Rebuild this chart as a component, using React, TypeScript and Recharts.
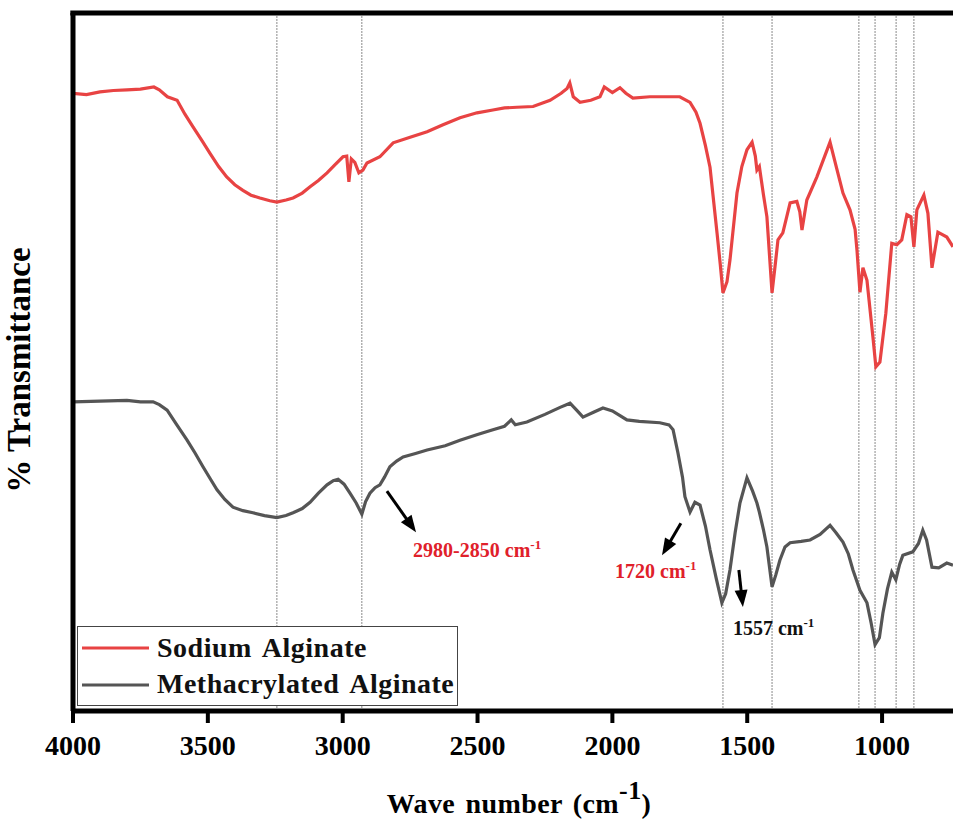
import React from 'react';
import { LineChart, Line, XAxis, YAxis, ReferenceLine, Legend } from 'recharts';

// ---------- data (wavenumber cm-1, % transmittance, arbitrary offsets) ----------
const saWn = [4000,3950,3900,3850,3800,3750,3700,3680,3650,3614,3585,3555,3520,3492,3460,3430,3400,3370,3340,3307,3270,3244,3210,3184,3150,3121,3090,3058,3030,2999,2985,2977,2968,2955,2940,2925,2910,2862,2813,2750,2687,2628,2565,2502,2443,2400,2354,2294,2231,2190,2168,2158,2145,2120,2080,2046,2030,2000,1972,1950,1924,1861,1800,1750,1712,1690,1675,1655,1638,1612,1600,1590,1575,1564,1538,1520,1501,1482,1470,1464,1455,1440,1427,1408,1396,1386,1368,1341,1316,1305,1297,1279,1242,1193,1170,1145,1119,1100,1093,1082,1071,1056,1034,1023,1008,986,964,945,927,908,893,882,871,845,830,815,793,760,737];
const saT = [88.5,88.3,88.7,88.9,89.0,89.1,89.4,89.0,88.0,87.5,85.5,83.7,81.6,79.9,78.0,76.5,75.4,74.6,73.9,73.5,73.1,72.9,73.2,73.5,74.2,75.1,76.0,77.1,78.2,79.4,79.5,75.8,79.1,78.6,77.1,77.5,78.5,79.4,81.4,82.2,83.0,84.0,85.0,85.7,86.1,86.4,86.5,86.6,87.5,88.5,89.2,90.0,88.0,87.2,87.5,88.0,89.4,88.6,89.3,88.5,87.8,88.0,88.0,88.0,87.2,85.8,84.2,81.0,77.9,68.5,64.0,59.9,61.5,64.6,74.2,78.0,80.4,81.5,79.5,77.5,78.0,74.0,70.8,59.9,64.0,67.5,68.5,72.8,73.0,71.5,68.9,73.2,76.5,81.5,78.0,74.2,71.8,69.0,66.0,60.0,63.5,61.7,53.6,49.3,50.0,57.0,67.0,66.8,67.5,71.1,70.8,66.5,71.8,73.9,71.3,63.5,68.6,67.9,66.5];

const maWn = [4000,3900,3800,3750,3703,3680,3651,3615,3577,3548,3518,3490,3466,3437,3407,3370,3333,3290,3244,3210,3184,3150,3121,3090,3058,3035,3017,2995,2973,2950,2929,2915,2899,2880,2862,2845,2825,2800,2776,2730,2687,2620,2565,2500,2443,2400,2375,2360,2317,2250,2194,2157,2130,2109,2070,2035,2000,1946,1900,1824,1790,1775,1757,1740,1731,1712,1694,1675,1655,1638,1615,1594,1580,1564,1545,1527,1501,1480,1464,1455,1440,1427,1408,1394,1379,1360,1341,1300,1267,1230,1193,1170,1145,1125,1108,1082,1056,1040,1026,1010,997,980,964,949,935,923,886,865,849,835,815,790,760,737];
const maT = [44.3,44.4,44.5,44.3,44.3,43.9,43.1,41.0,38.8,37.0,35.0,33.2,31.7,30.3,29.2,28.7,28.4,28.0,27.7,28.0,28.4,29.0,29.9,31.2,32.4,33.0,33.2,32.5,31.2,29.8,28.2,30.0,31.2,32.0,32.4,33.5,35.0,35.8,36.4,36.9,37.4,38.0,38.8,39.6,40.3,40.8,41.7,41.0,41.4,42.5,43.5,44.1,43.0,42.1,42.8,43.4,43.0,41.7,41.5,41.3,41.0,40.3,37.0,33.5,30.7,28.5,29.9,29.5,26.5,23.1,19.0,15.5,16.8,20.2,25.5,29.8,33.4,31.5,29.8,28.5,26.0,23.5,17.8,19.5,21.6,23.5,24.1,24.3,24.5,25.3,26.6,25.5,24.2,22.5,20.2,17.3,15.5,12.5,9.5,10.5,14.0,17.5,19.9,18.8,21.0,22.3,22.8,24.0,25.9,24.5,20.6,20.5,21.2,20.9];

const xTicks = [4000, 3500, 3000, 2500, 2000, 1500, 1000];
const guideLines = [3244, 2929, 1590, 1408, 1086, 1026, 948, 882];

const seriesNames = ['Sodium Alginate', 'Methacrylated Alginate'];
const seriesColors = ['#E84343', '#555555'];

// annotations: arrow [start, end] and label anchor
const annoArrows = [
  [[2836, 31.5], [2728, 25.6]],
  [[1746, 26.9], [1816, 22.3]],
  [[1531, 20.2], [1516, 14.9]],
];
const annoLabels = ['2980-2850', '1720', '1557'];
const annoLabelPos = [[2739, 22.1], [1990, 19.1], [1553, 10.9]];
const annoLabelColors = ['#E0202A', '#E0202A', '#111111'];

const saData = saWn.map((w, i) => ({ wn: w, t: saT[i] }));
const maData = maWn.map((w, i) => ({ wn: w, t: maT[i] }));

const FONT = '"Liberation Serif", "Times New Roman", serif';

const ArrowShape = (props: any) => {
  const { x1, y1, x2, y2 } = props;
  const dx = x2 - x1, dy = y2 - y1;
  const len = Math.hypot(dx, dy) || 1;
  const ux = dx / len, uy = dy / len;
  const hl = 17, hw = 6.5;
  const bx = x2 - ux * hl, by = y2 - uy * hl;
  const px = -uy, py = ux;
  return (
    <g>
      <line x1={x1} y1={y1} x2={bx + ux * 2} y2={by + uy * 2} stroke="#000" strokeWidth={3} />
      <polygon points={`${x2},${y2} ${bx + px * hw},${by + py * hw} ${bx - px * hw},${by - py * hw}`} fill="#000" />
    </g>
  );
};

const makeLabelShape = (txt: string, color: string) => (props: any) => (
  <text x={props.x1} y={props.y1} fill={color} fontSize={20} fontWeight="bold" fontFamily={FONT}>
    {txt} cm<tspan dy={-8} fontSize={13}>-1</tspan>
  </text>
);

const LegendBox = () => (
  <div style={{ width: 381, height: 80, border: '1px solid #444', background: '#fff', boxSizing: 'border-box' }}>
    <svg width={379} height={78} style={{ display: 'block' }}>
      {seriesNames.map((n, i) => (
        <g key={n}>
          <line x1={4} x2={71} y1={21 + i * 37} y2={21 + i * 37} stroke={seriesColors[i]} strokeWidth={3} />
          <text x={79} y={30 + i * 36} fontSize={28} fontWeight="bold" fontFamily={FONT} fill="#111" letterSpacing={0.5} wordSpacing={4}>{n}</text>
        </g>
      ))}
    </svg>
  </div>
);

export default function App() {
  return (
    <div style={{ position: 'absolute', left: 0, top: 0, width: 953, height: 825, overflow: 'hidden', background: '#fff' }}>
      <LineChart width={953} height={825} margin={{ top: 13, right: 0, left: 0, bottom: 0 }}>
        <XAxis
          type="number"
          dataKey="wn"
          domain={[737, 4000]}
          reversed
          allowDataOverflow
          ticks={xTicks}
          interval={0}
          height={114}
          tickSize={12}
          tickMargin={12}
          axisLine={{ stroke: '#000', strokeWidth: 5 }}
          tickLine={{ stroke: '#000', strokeWidth: 4 }}
          tick={{ fill: '#000', fontSize: 28, fontWeight: 'bold', fontFamily: FONT }}
          label={{
            content: () => (
              <text x={519} y={813} textAnchor="middle" fontSize={28} fontWeight="bold" fontFamily={FONT} fill="#000" letterSpacing={0.4} wordSpacing={3}>
                Wave number (cm<tspan dy={-14} fontSize={26}>-1</tspan><tspan dy={14}>)</tspan>
              </text>
            ),
          }}
        />
        <YAxis
          type="number"
          domain={[0, 100]}
          width={73}
          tick={false}
          tickLine={false}
          axisLine={{ stroke: '#000', strokeWidth: 5 }}
          label={{
            content: () => (
              <text x={30} y={370} transform="rotate(-90, 30, 370)" textAnchor="middle" fontSize={33} fontWeight="bold" fontFamily={FONT} fill="#000">
                % Transmittance
              </text>
            ),
          }}
        />
        {guideLines.map((g) => (
          <ReferenceLine key={g} x={g} stroke="#8a8a8a" strokeWidth={1} strokeDasharray="2 1" />
        ))}
        <ReferenceLine segment={[{ x: 4010, y: 100 }, { x: 737, y: 100 }]} ifOverflow="visible" stroke="#000" strokeWidth={5} />
        <Line data={saData} dataKey="t" type="linear" dot={false} stroke={seriesColors[0]} strokeWidth={3.2} isAnimationActive={false} name={seriesNames[0]} />
        <Line data={maData} dataKey="t" type="linear" dot={false} stroke={seriesColors[1]} strokeWidth={3.2} isAnimationActive={false} name={seriesNames[1]} />
        {annoArrows.map((a, i) => (
          <ReferenceLine key={'a' + i} segment={[{ x: a[0][0], y: a[0][1] }, { x: a[1][0], y: a[1][1] }]} shape={ArrowShape} />
        ))}
        {annoLabelPos.map((p, i) => (
          <ReferenceLine key={'l' + i} segment={[{ x: p[0], y: p[1] }, { x: p[0], y: p[1] }]} shape={makeLabelShape(annoLabels[i], annoLabelColors[i])} />
        ))}
        <Legend
          layout="horizontal"
          verticalAlign="middle"
          align="center"
          wrapperStyle={{ position: 'absolute', left: 77, top: 626, width: 381, height: 80 }}
          content={() => <LegendBox />}
        />
      </LineChart>
    </div>
  );
}
